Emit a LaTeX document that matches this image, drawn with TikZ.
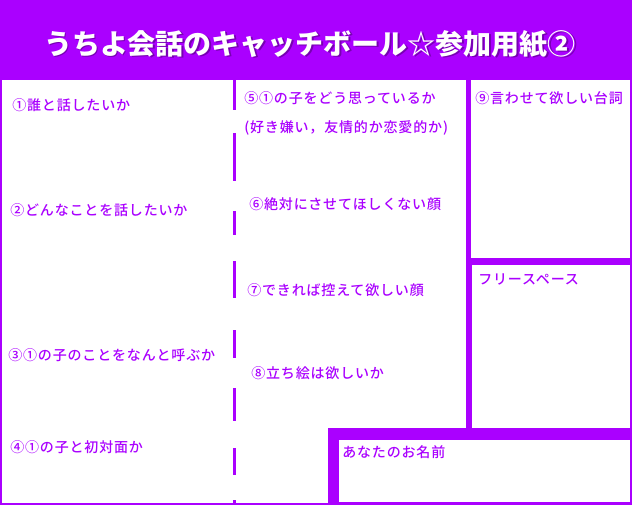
\documentclass[tikz,border=0pt]{standalone}
\usepackage{fontspec}
\newfontfamily\jpfont{Noto Sans CJK JP Medium}[LetterSpace=6]
\newfontfamily\jptitle{Noto Sans CJK JP Black}
\definecolor{vio}{HTML}{AA00FF}
\tikzset{
  lbl/.style={anchor=west, text=vio, font=\jpfont\fontsize{10.5}{12}\selectfont, inner sep=0pt},
  pane/.style={fill=white, draw=none}
}
\begin{document}
\begin{tikzpicture}[x=0.75pt, y=-0.75pt]
      \useasboundingbox (0,0) rectangle (632,505);
      % background
      \fill[vio] (0,0) rectangle (632,505);

      % title
      \node (title) [font=\jptitle\fontsize{21}{24}\selectfont, text=vio!70!black, inner sep=0pt] at (311.5,45.5) {うちよ会話のキャッチボール☆参加用紙②};
      \node (titlew) [font=\jptitle\fontsize{21}{24}\selectfont, text=white, inner sep=0pt] at (310,44) {うちよ会話のキャッチボール☆参加用紙②};

      % panes
      \fill[pane] (2,80) rectangle (466,503);
      \fill[pane] (471,80) rectangle (630,258);
      \fill[pane] (472,265) rectangle (630,428);
      \fill[vio] (328,428) rectangle (632,505);
      \fill[pane] (339,440) rectangle (630,502);

      % dashed divider
      \foreach \a/\b in {78/110, 133/181, 211/235, 261/298, 330/358, 388/421, 448/475, 500/505}
        \fill[vio] (232.5,\a) rectangle (235.5,\b);

      % left column
      \node (q1) [lbl] at (12,105) {①誰と話したいか};
      \node (q2) [lbl] at (10,210) {②どんなことを話したいか};
      \node (q3) [lbl] at (8,355) {③①の子のことをなんと呼ぶか};
      \node (q4) [lbl] at (10,447) {④①の子と初対面か};

      % middle column
      \node (q5) [lbl] at (244,98) {⑤①の子をどう思っているか};
      \node (q5b) [lbl] at (244,128) {(好き嫌い，友情的か恋愛的か)};
      \node (q6) [lbl] at (249,204) {⑥絶対にさせてほしくない顔};
      \node (q7) [lbl] at (247,290) {⑦できれば控えて欲しい顔};
      \node (q8) [lbl] at (251,373) {⑧立ち絵は欲しいか};

      % right column
      \node (q9) [lbl] at (475,98) {⑨言わせて欲しい台詞};
      \node (free) [lbl] at (478,279) {フリースペース};
      \node (name) [lbl] at (342,452) {あなたのお名前};
\end{tikzpicture}
\end{document}
